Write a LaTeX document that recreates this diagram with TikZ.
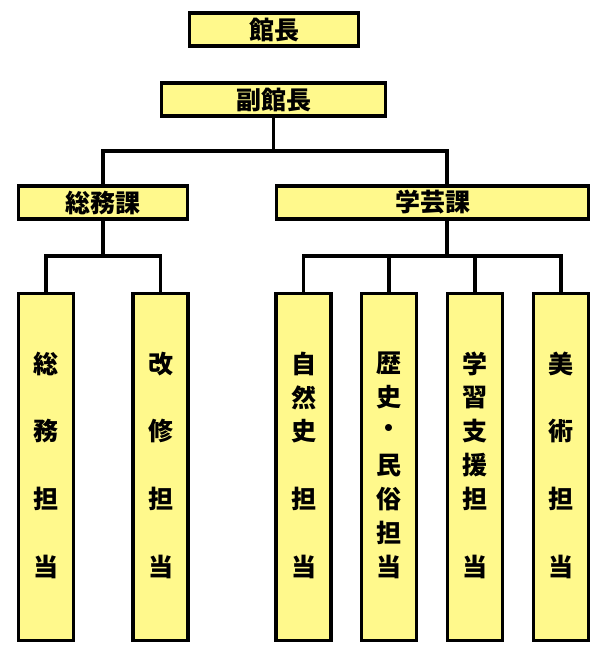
\documentclass[tikz,border=0pt]{standalone}
\usepackage{fontspec}
\newfontfamily\cjk{Noto Sans CJK JP}
\usetikzlibrary{positioning,calc}

\tikzset{
  box/.style={draw, line width=3.5pt, fill=yellow!45, inner sep=0pt,
    font=\cjk\bfseries\fontsize{25}{28}\selectfont},
  tallbox/.style={box, minimum width=55pt, minimum height=347pt},
  glyph/.style={font=\cjk\bfseries\fontsize{25}{28}\selectfont, inner sep=0pt},
  link/.style={line width=3.5pt}
}

\begin{document}
\begin{tikzpicture}[x=1pt,y=-1pt]
\useasboundingbox (0,0) rectangle (608,657);

% Upper boxes
\node[box, minimum width=169pt, minimum height=33pt] (kancho) at (274,29.5) {館長};
\node[box, minimum width=224pt, minimum height=33pt] (fuku) at (273.5,99.5) {副館長};
\node[box, minimum width=169pt, minimum height=33pt] (somu) at (103,202.5) {総務課};
\node[box, minimum width=312pt, minimum height=33pt] (gakugei) at (432.5,202.5) {学芸課};

% Tall boxes
\foreach \name/\x in {tA/46, tB/160.5, tC/303.5, tD/389, tE/475, tF/561}
  \node[tallbox] (\name) at (\x,467) {};

% Vertical texts, slot 1..7
\foreach \name/\list in {
  tA/{1/総,3/務,5/担,7/当},
  tB/{1/改,3/修,5/担,7/当},
  tC/{1/自,2/然,3/史,5/担,7/当},
  tD/{1/歴,2/史,3/・,4/民,5/俗,6/担,7/当},
  tE/{1/学,2/習,3/支,4/援,5/担,7/当},
  tF/{1/美,3/術,5/担,7/当}}
{
  \foreach \s/\c in \list
    \node[glyph] at ($(\name.north)+(0,{365-293+(\s-1)*33.8})$) {\c};
}

% Connectors
\coordinate (j1) at ($(fuku.south)+(0,33)$);
\coordinate (gtop) at (gakugei.north -| 447,0);
\draw[link] (fuku.south) -- (j1);
\draw[link] (somu.north) |- (j1) -| (gtop);

\coordinate (j2) at ($(somu.south)+(0,35)$);
\draw[link] (somu.south) -- (j2);
\draw[link] (tA.north) |- (j2) -| (tB.north);

\coordinate (gbot) at (gakugei.south -| 447,0);
\coordinate (j3) at ($(gbot)+(0,35)$);
\draw[link] (gbot) -- (j3);
\draw[link] (tC.north) |- (j3) -| (tF.north);
\draw[link] (tD.north) -- (tD.north |- j3);
\draw[link] (tE.north) -- (tE.north |- j3);
\end{tikzpicture}
\end{document}
